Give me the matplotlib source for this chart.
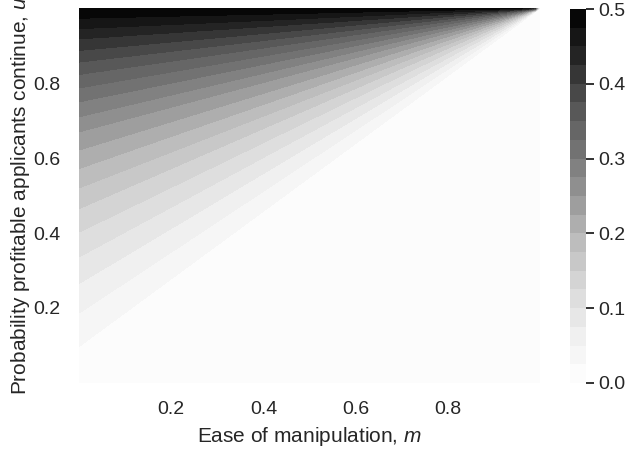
import numpy as np
import matplotlib
matplotlib.use('Agg')
import matplotlib.pyplot as plt
import seaborn as sns

# band boundaries read along the left edge (m ~ 0): u where each level is crossed
EDGE_LEVELS = [0.025, 0.05, 0.075, 0.1, 0.125, 0.15, 0.175, 0.2, 0.225, 0.25,
               0.275, 0.3, 0.325, 0.35, 0.375, 0.4, 0.425, 0.45, 0.475]
EDGE_U = [0.097, 0.186, 0.265, 0.336, 0.402, 0.465, 0.520, 0.572, 0.621, 0.670,
          0.710, 0.750, 0.787, 0.823, 0.856, 0.887, 0.918, 0.945, 0.973]
CBAR_TICKS = [0.0, 0.1, 0.2, 0.3, 0.4, 0.5]
X_TICKS = [0.2, 0.4, 0.6, 0.8]
Y_TICKS = [0.2, 0.4, 0.6, 0.8]


def plot_manipulation():
    sns.set_style('white')
    plt.rcParams['font.family'] = ['Liberation Sans', 'DejaVu Sans']
    plt.rcParams['mathtext.fontset'] = 'custom'
    plt.rcParams['mathtext.it'] = 'Liberation Sans:italic'
    plt.rcParams['mathtext.rm'] = 'Liberation Sans'

    m = np.linspace(0.001, 0.999, 100)
    u = np.linspace(0.001, 0.999, 100)
    M, U = np.meshgrid(m, u)
    # contours fan out from (1, 1): map every point back to the left edge
    u0 = (U - M) / (1 - M)
    edge_u = np.concatenate([[0.0], EDGE_U, [1.0]])
    edge_v = np.concatenate([[0.0], EDGE_LEVELS, [0.5]])
    Z = np.interp(u0, edge_u, edge_v)
    Z[u0 < 0] = 0.0

    fig = plt.figure(figsize=(6.31, 4.5), dpi=100)
    ax = fig.add_axes([0.125, 0.149, 0.731, 0.833])
    cax = fig.add_axes([0.903, 0.149, 0.026, 0.831])
    cs = ax.contourf(M, U, Z, levels=np.linspace(0, 0.5, 21), cmap='Greys')
    cb = fig.colorbar(cs, cax=cax, ticks=CBAR_TICKS)
    cb.outline.set_visible(False)
    cb.ax.tick_params(labelsize=14, length=6, width=1.3, pad=3, color='#222222')
    cb.ax.set_yticklabels(['%.1f' % t for t in CBAR_TICKS])

    ax.set_xlim(0, 1)
    ax.set_ylim(0, 1)
    ax.set_xticks(X_TICKS)
    ax.set_yticks(Y_TICKS)
    ax.tick_params(labelsize=14, length=0, pad=13)
    for s in ax.spines.values():
        s.set_visible(False)
    ax.set_xlabel('Ease of manipulation, $m$', fontsize=15, labelpad=5)
    ax.set_ylabel('Probability profitable applicants continue, $u$', fontsize=15, labelpad=1)

    fig.savefig('out.png', dpi=100)


if __name__ == '__main__':
    plot_manipulation()
